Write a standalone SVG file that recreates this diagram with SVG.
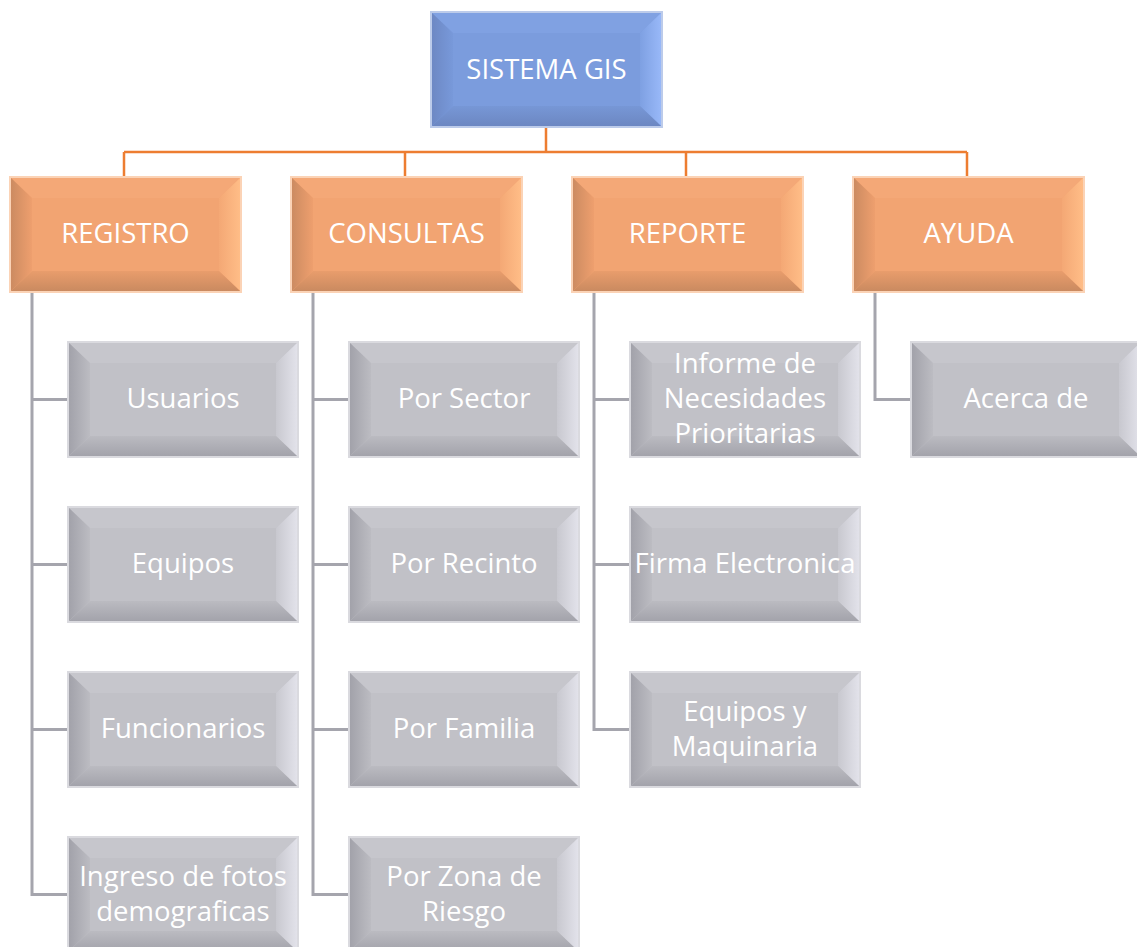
<svg xmlns="http://www.w3.org/2000/svg" xmlns:xlink="http://www.w3.org/1999/xlink" width="1137" height="947" viewBox="0 0 1137 947">
<style>
text{font-family:"Open Sans","Liberation Sans",sans-serif;font-size:27.5px;fill:#ffffff;text-anchor:middle}
.oc{fill:none;stroke:#ed7d31;stroke-width:2.5}
.gc{fill:none;stroke:#a5a5ad;stroke-width:3}
</style>
<defs>
<linearGradient id="bL" x1="0" y1="0" x2="1" y2="0"><stop offset="0" stop-color="#6d88c4"/><stop offset="1" stop-color="#7899da"/></linearGradient>
<linearGradient id="bR" x1="0" y1="0" x2="1" y2="0"><stop offset="0" stop-color="#7ea0e2"/><stop offset="1" stop-color="#98b8f8"/></linearGradient>
<linearGradient id="bB" x1="0" y1="0" x2="0" y2="1"><stop offset="0" stop-color="#7797d6"/><stop offset="1" stop-color="#6c87c2"/></linearGradient>
<linearGradient id="oL" x1="0" y1="0" x2="1" y2="0"><stop offset="0" stop-color="#cc8b61"/><stop offset="1" stop-color="#ee9f6e"/></linearGradient>
<linearGradient id="oR" x1="0" y1="0" x2="1" y2="0"><stop offset="0" stop-color="#f4a875"/><stop offset="1" stop-color="#ffbd87"/></linearGradient>
<linearGradient id="oB" x1="0" y1="0" x2="0" y2="1"><stop offset="0" stop-color="#e99d6c"/><stop offset="1" stop-color="#ca8a60"/></linearGradient>
<linearGradient id="gL" x1="0" y1="0" x2="1" y2="0"><stop offset="0" stop-color="#a2a2aa"/><stop offset="1" stop-color="#bcbcc2"/></linearGradient>
<linearGradient id="gR" x1="0" y1="0" x2="1" y2="0"><stop offset="0" stop-color="#c8c8cf"/><stop offset="1" stop-color="#e2e2ea"/></linearGradient>
<linearGradient id="gB" x1="0" y1="0" x2="0" y2="1"><stop offset="0" stop-color="#bbbbc1"/><stop offset="1" stop-color="#a3a3ab"/></linearGradient>
<g id="blueBox">
<rect x="0" y="0" width="231" height="115" fill="#7b9cdd" stroke="#bccbea" stroke-width="2"/>
<polygon points="1,1 230,1 209,21 22,21" fill="#80a1e2"/>
<polygon points="1,1 22,21 22,94 1,114" fill="url(#bL)"/>
<polygon points="230,1 230,114 209,94 209,21" fill="url(#bR)"/>
<polygon points="1,114 22,94 209,94 230,114" fill="url(#bB)"/>
</g>
<g id="orangeBox">
<rect x="0" y="0" width="231" height="115" fill="#f2a472" stroke="#fbd3b6" stroke-width="2"/>
<polygon points="1,1 230,1 209,21 22,21" fill="#f4a877"/>
<polygon points="1,1 22,21 22,94 1,114" fill="url(#oL)"/>
<polygon points="230,1 230,114 209,94 209,21" fill="url(#oR)"/>
<polygon points="1,114 22,94 209,94 230,114" fill="url(#oB)"/>
</g>
<g id="grayBox">
<rect x="0" y="0" width="230" height="115" fill="#c1c1c7" stroke="#dadadf" stroke-width="2"/>
<polygon points="1,1 229,1 208,21 22,21" fill="#c6c6cc"/>
<polygon points="1,1 22,21 22,94 1,114" fill="url(#gL)"/>
<polygon points="229,1 229,114 208,94 208,21" fill="url(#gR)"/>
<polygon points="1,114 22,94 208,94 229,114" fill="url(#gB)"/>
</g>
</defs>
<rect width="1137" height="947" fill="#ffffff"/>
<g id="connectors">
<path class="oc" d="M546,127 V152 M124,152 H967 M124,152 V177 M405,152 V177 M686,152 V177 M967,152 V177"/>
<path class="gc" d="M32,292 V894.5 H68 M32,399.5 H68 M32,564.5 H68 M32,729.5 H68"/>
<path class="gc" d="M313,292 V894.5 H349 M313,399.5 H349 M313,564.5 H349 M313,729.5 H349"/>
<path class="gc" d="M594,292 V729.5 H630 M594,399.5 H630 M594,564.5 H630"/>
<path class="gc" d="M875,292 V399.5 H911"/>
</g>
<g id="n-sistema"><use xlink:href="#blueBox" x="431" y="12"/><text x="546.5" y="79">SISTEMA GIS</text></g>
<g id="n-registro"><use xlink:href="#orangeBox" x="10" y="177"/><text x="125.5" y="243">REGISTRO</text></g>
<g id="n-consultas"><use xlink:href="#orangeBox" x="291" y="177"/><text x="406.5" y="243">CONSULTAS</text></g>
<g id="n-reporte"><use xlink:href="#orangeBox" x="572" y="177"/><text x="687.5" y="243">REPORTE</text></g>
<g id="n-ayuda"><use xlink:href="#orangeBox" x="853" y="177"/><text x="968.5" y="243">AYUDA</text></g>
<g id="n-usuarios"><use xlink:href="#grayBox" x="68" y="342"/><text x="183" y="408">Usuarios</text></g>
<g id="n-equipos"><use xlink:href="#grayBox" x="68" y="507"/><text x="183" y="573">Equipos</text></g>
<g id="n-funcionarios"><use xlink:href="#grayBox" x="68" y="672"/><text x="183" y="738">Funcionarios</text></g>
<g id="n-ingreso"><use xlink:href="#grayBox" x="68" y="837"/><text x="183" y="886">Ingreso de fotos</text><text x="183" y="921">demograficas</text></g>
<g id="n-sector"><use xlink:href="#grayBox" x="349" y="342"/><text x="464" y="408">Por Sector</text></g>
<g id="n-recinto"><use xlink:href="#grayBox" x="349" y="507"/><text x="464" y="573">Por Recinto</text></g>
<g id="n-familia"><use xlink:href="#grayBox" x="349" y="672"/><text x="464" y="738">Por Familia</text></g>
<g id="n-zona"><use xlink:href="#grayBox" x="349" y="837"/><text x="464" y="886">Por Zona de</text><text x="464" y="921">Riesgo</text></g>
<g id="n-informe"><use xlink:href="#grayBox" x="630" y="342"/><text x="745" y="373">Informe de</text><text x="745" y="408">Necesidades</text><text x="745" y="443">Prioritarias</text></g>
<g id="n-firma"><use xlink:href="#grayBox" x="630" y="507"/><text x="745" y="573">Firma Electronica</text></g>
<g id="n-maquinaria"><use xlink:href="#grayBox" x="630" y="672"/><text x="745" y="721">Equipos y</text><text x="745" y="756">Maquinaria</text></g>
<g id="n-acerca"><use xlink:href="#grayBox" x="911" y="342"/><text x="1026" y="408">Acerca de</text></g>
</svg>
